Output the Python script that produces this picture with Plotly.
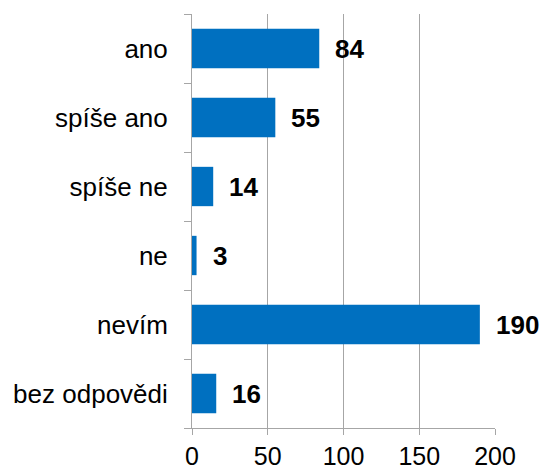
import plotly.graph_objects as go

categories = ["ano", "spíše ano", "spíše ne", "ne", "nevím", "bez odpovědi"]
values = [84, 55, 14, 3, 190, 16]
x_ticks = [0, 50, 100, 150, 200]

bar_color = "#0070C0"
grid_color = "#A6A6A6"
font_family = "Liberation Sans, Arial, sans-serif"
fs = 26

fig = go.Figure()
fig.add_trace(go.Bar(
    x=values,
    y=categories,
    orientation="h",
    marker=dict(color=bar_color, line=dict(width=0)),
    hoverinfo="skip",
))

for c, v in zip(categories, values):
    fig.add_annotation(
        x=v, y=c, text=f"<b>{v}</b>", showarrow=False,
        xanchor="left", yanchor="middle", xshift=14,
        font=dict(family=font_family, size=fs, color="#000000"),
    )

fig.update_layout(
    width=541, height=469,
    margin=dict(l=191.5, r=45.5, t=14, b=41.3),
    paper_bgcolor="white", plot_bgcolor="white",
    bargap=0.43,
    showlegend=False,
    font=dict(family=font_family, size=fs, color="#000000"),
    xaxis=dict(
        range=[0, 200], tickvals=x_ticks, ticktext=[str(t) for t in x_ticks],
        showgrid=True, gridcolor=grid_color, gridwidth=1,
        showline=True, linecolor=grid_color, linewidth=1,
        ticks="outside", ticklen=6, tickcolor=grid_color,
        zeroline=False, ticklabelstandoff=0, automargin=False,
        tickfont=dict(size=25),
    ),
    yaxis=dict(
        categoryorder="array", categoryarray=categories[::-1],
        autorange=False, range=[-0.5, 5.5],
        showline=True, linecolor=grid_color, linewidth=1,
        ticks="outside", tickson="boundaries", ticklen=7, tickcolor=grid_color,
        showgrid=False, zeroline=False, ticklabelstandoff=18, automargin=False,
        tickfont=dict(size=fs),
    ),
)

fig.write_html(
    "out.html",
    config={"displayModeBar": False},
    post_script="document.body.style.margin='0';document.body.style.padding='0';",
)
